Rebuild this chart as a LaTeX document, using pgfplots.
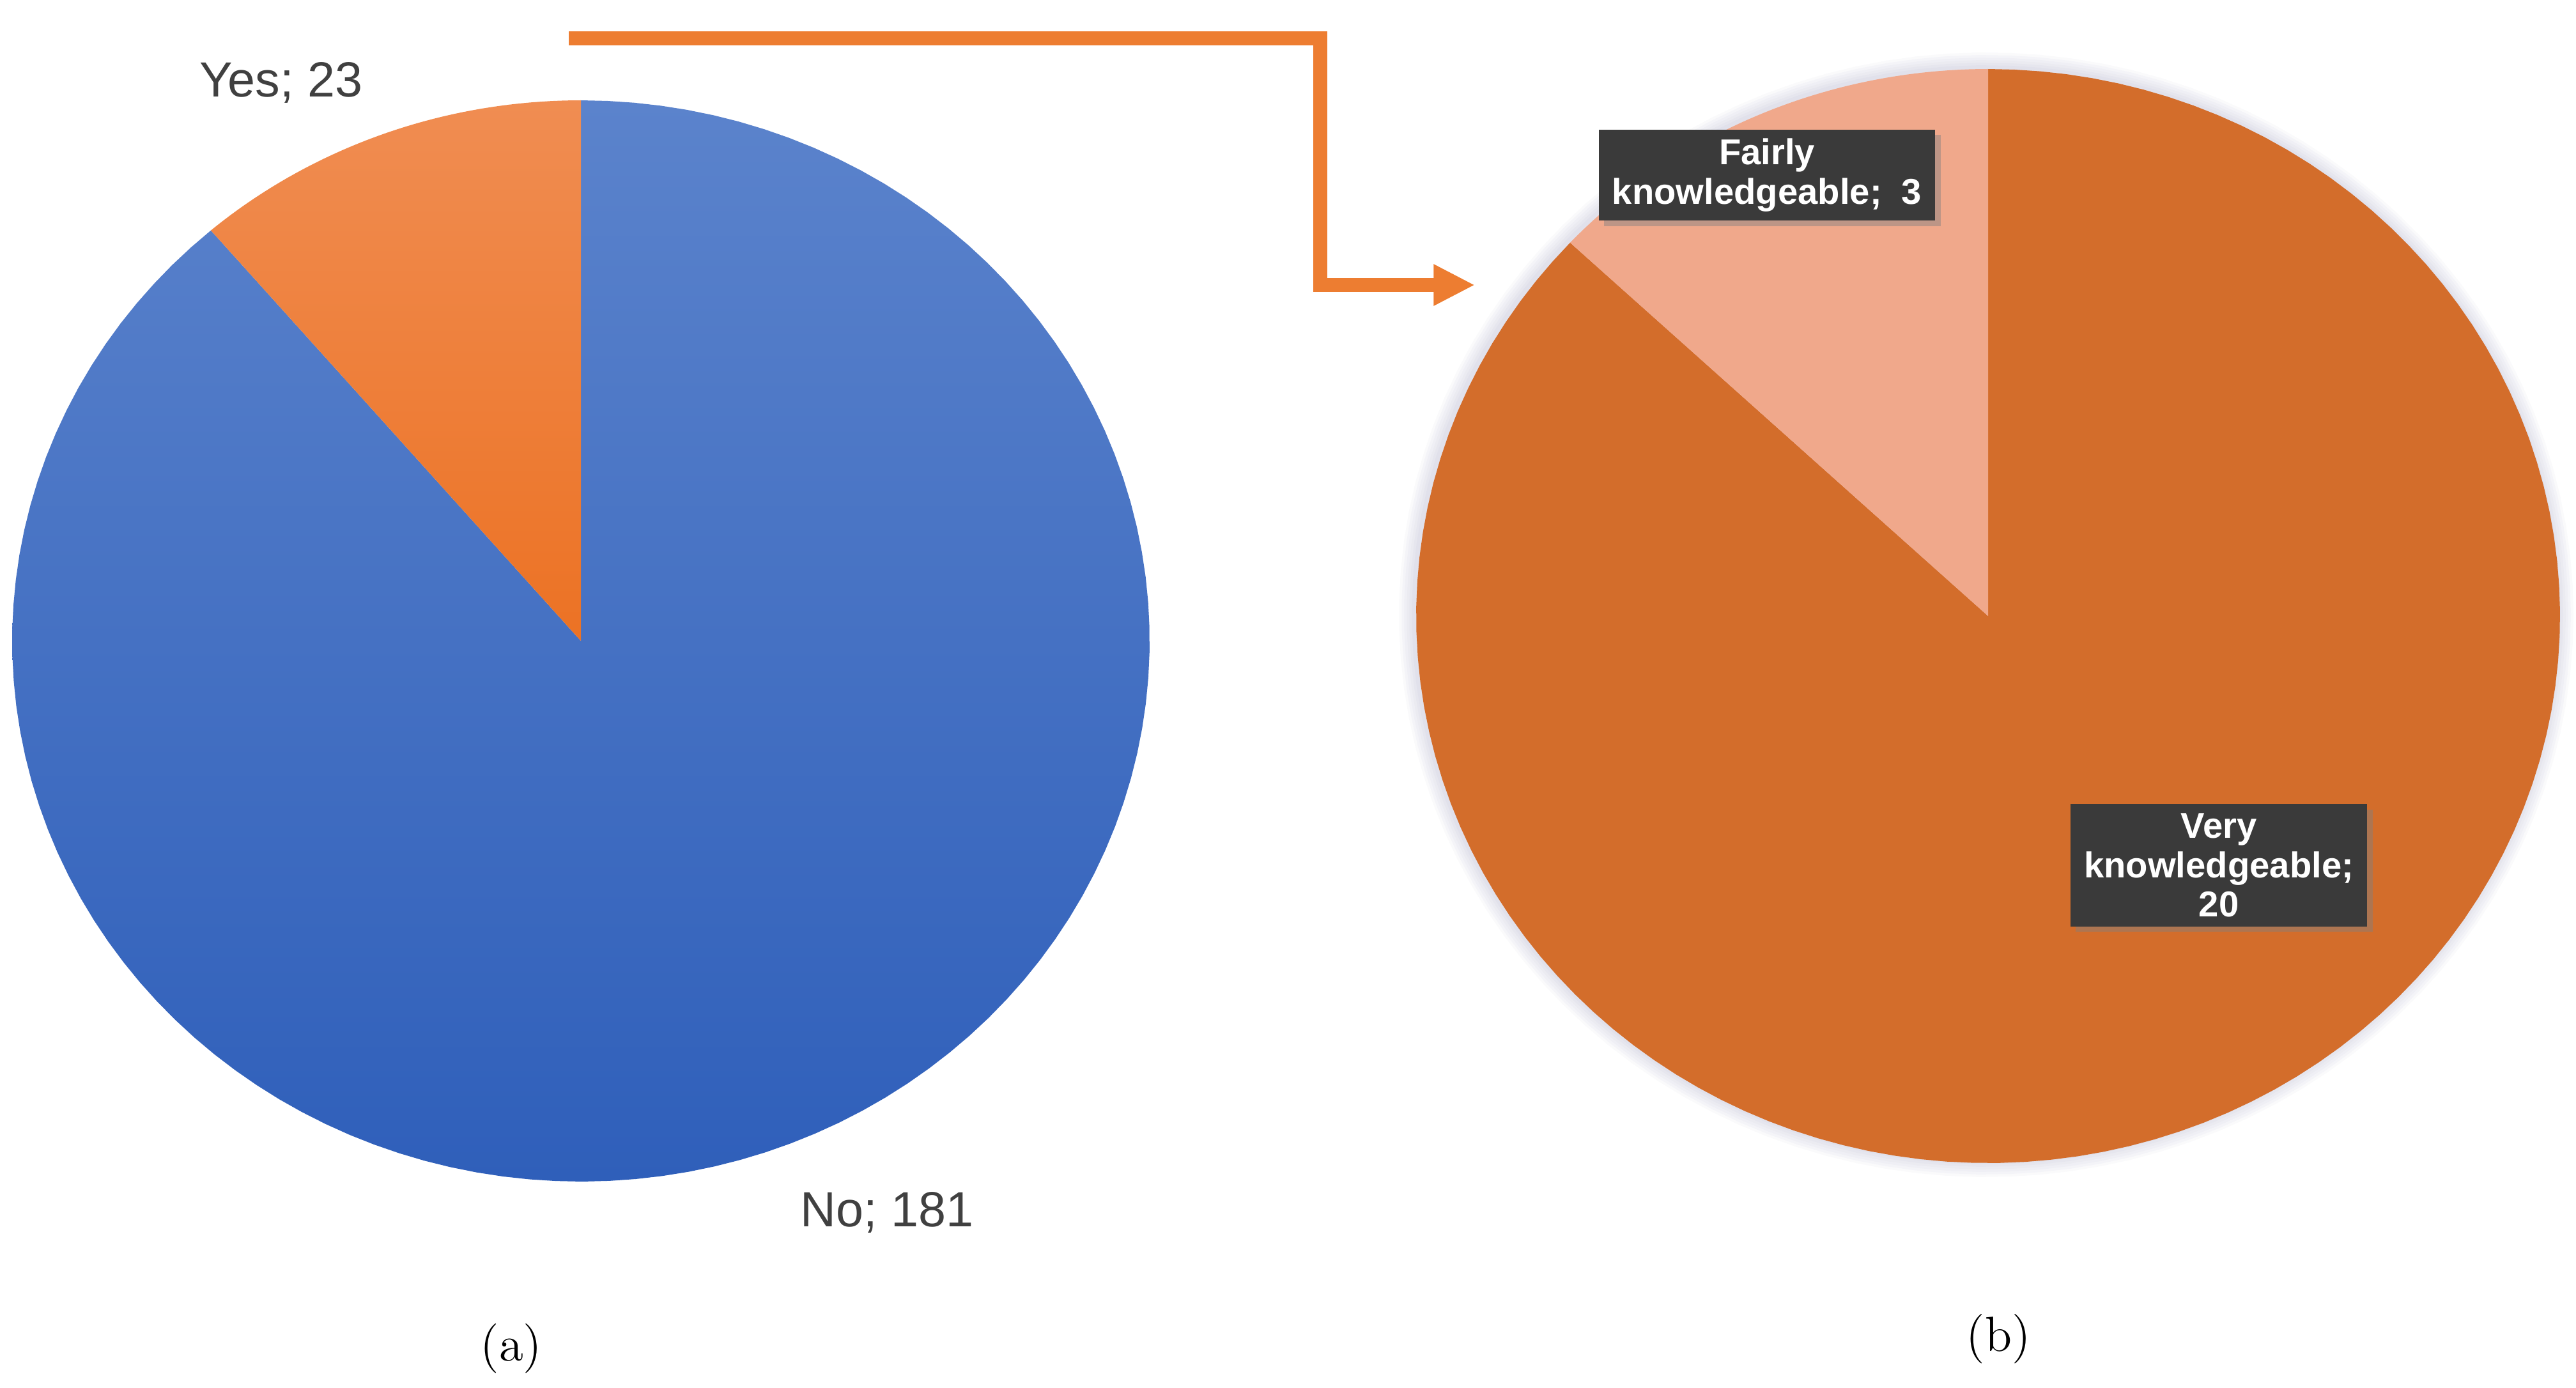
\documentclass[border=0pt]{standalone}
\usepackage{pgfplots}
\pgfplotsset{compat=1.18}
\usepackage{fontspec}
\usetikzlibrary{arrows.meta,shadows}
\newfontfamily\lab{Liberation Sans}

\definecolor{blueTop}{HTML}{5B83CC}
\definecolor{blueBot}{HTML}{2F5FBA}
\definecolor{orTop}{HTML}{F08D52}
\definecolor{orBot}{HTML}{EC7224}
\definecolor{veryOr}{HTML}{D36D2B}
\definecolor{fairly}{HTML}{F0A88B}
\definecolor{arrowOr}{HTML}{ED7D31}
\definecolor{boxGray}{HTML}{3A3A3A}
\definecolor{txtGray}{HTML}{404040}

% counts
\def\nYes{23}
\def\nNo{181}
\def\nFairly{3}
\def\nVery{20}
\pgfmathsetmacro\angA{90+360*\nYes/(\nYes+\nNo)}
\pgfmathsetmacro\angB{90+360*\nFairly/(\nFairly+\nVery)}

\begin{document}
\begin{tikzpicture}
\begin{axis}[
    scale only axis, width=20.155cm, height=10.855cm,
    xmin=0, xmax=4031, ymin=0, ymax=2171,
    hide axis, clip=false, samples=120, variable=\t
]
% (a) yes / no
\addplot[draw=none, top color=blueTop, bottom color=blueBot, domain=\angA:450]
    ({909+890*cos(t)},{1168+846*sin(t)}) -- (axis cs:909,1168) -- cycle;
\addplot[draw=none, top color=orTop, bottom color=orBot, domain=90:\angA]
    ({909+890*cos(t)},{1168+846*sin(t)}) -- (axis cs:909,1168) -- cycle;
\node[font=\lab\fontsize{11}{13}\selectfont, text=txtGray] at (axis cs:440,2042) {Yes; 23};
\node[font=\lab\fontsize{11}{13}\selectfont, text=txtGray] at (axis cs:1388,274) {No; 181};

% (b) soft halo, then the pie
\pgfplotsinvokeforeach{24,20,16,12,8,4}{
\addplot[draw=none, fill=gray!80!blue, fill opacity=0.035, domain=0:360]
    ({3108+(895+#1)*cos(t)},{1209+(856+#1)*sin(t)});
}
\addplot[draw=none, fill=veryOr, domain=\angB:450]
    ({3111+895*cos(t)},{1207+856*sin(t)}) -- (axis cs:3111,1207) -- cycle;
\addplot[draw=none, fill=fairly, domain=90:\angB]
    ({3111+895*cos(t)},{1207+856*sin(t)}) -- (axis cs:3111,1207) -- cycle;

\node[fill=boxGray, text=white, font=\lab\bfseries\fontsize{8}{8.8}\selectfont,
      align=center, inner xsep=3pt, inner ysep=2pt, minimum width=2.48cm,
      drop shadow={opacity=0.45, shadow xshift=1.2pt, shadow yshift=-1.2pt}]
    at (axis cs:2765,1897) {Fairly\\knowledgeable;~~3};
\node[fill=boxGray, text=white, font=\lab\bfseries\fontsize{8}{8.8}\selectfont,
      align=center, inner xsep=3pt, inner ysep=2pt, minimum width=2.25cm,
      drop shadow={opacity=0.45, shadow xshift=1.2pt, shadow yshift=-1.2pt}]
    at (axis cs:3472,817) {Very\\knowledgeable;\\20};

% arrow from (a) to (b)
\addplot[arrowOr, line width=3pt, line join=miter,
         -{Triangle[length=9.2pt, width=8.6pt]}]
    coordinates {(890,2111) (2066,2111) (2066,1725) (2308,1725)};

\node[font=\fontsize{11}{13}\selectfont] at (axis cs:800,61) {(a)};
\node[font=\fontsize{11}{13}\selectfont] at (axis cs:3127,76) {(b)};
\end{axis}
\pgfresetboundingbox
\useasboundingbox (current axis.south west) rectangle (current axis.north east);
\end{tikzpicture}
\end{document}
